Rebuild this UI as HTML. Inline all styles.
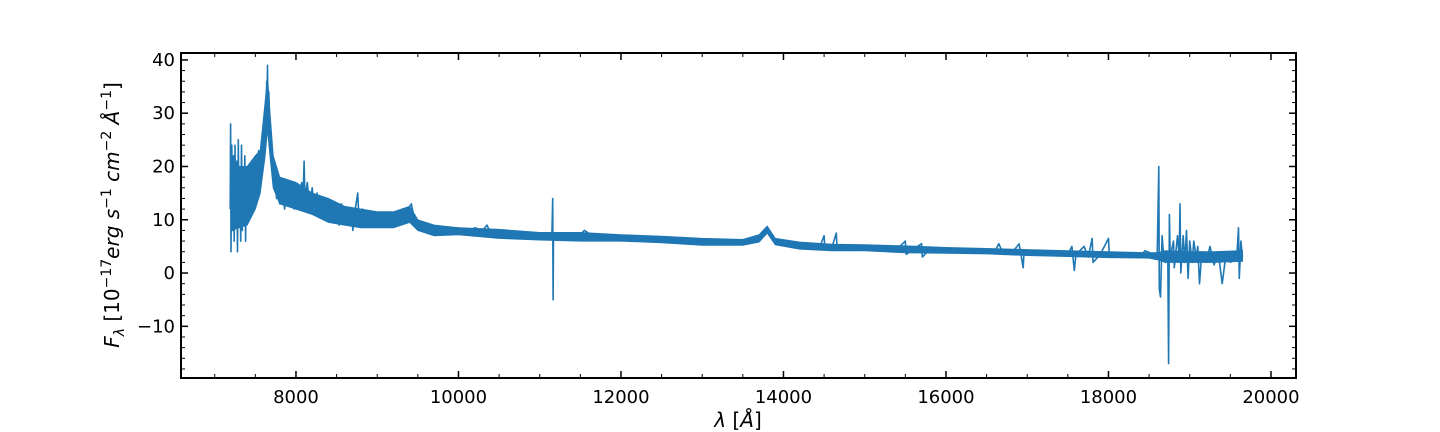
<!DOCTYPE html>
<html><head><meta charset="utf-8"><style>
html,body{margin:0;padding:0;background:#fff;}
svg{display:block;font-family:"DejaVu Sans","Liberation Sans",sans-serif;}
</style></head><body>
<svg id="chart" width="1440" height="432" viewBox="0 0 1440 432">
<g id="plot"></g>
<g id="axes"></g>
<text x="738" y="427" font-size="20" text-anchor="middle"><tspan font-style="italic">λ</tspan> [<tspan font-style="italic">Å</tspan>]</text>
<text transform="translate(119,215) rotate(-90)" font-size="20" text-anchor="middle"><tspan font-style="italic">F</tspan><tspan font-style="italic" font-size="14" dy="5">λ</tspan><tspan dy="-5"> [10</tspan><tspan font-size="14" dy="-8">−17</tspan><tspan font-style="italic" dy="8">erg s</tspan><tspan font-size="14" dy="-8">−1</tspan><tspan font-style="italic" dy="8"> cm</tspan><tspan font-size="14" dy="-8">−2</tspan><tspan font-style="italic" dy="8"> Å</tspan><tspan font-size="14" dy="-8">−1</tspan><tspan dy="8">]</tspan></text>
</svg>
<script>
const waves=[7190,7195,7200,7210,7220,7230,7240,7250,7260,7270,7280,7290,7300,7310,7320,7330,7340,7350,7360,7370,7380,7390,7400,7410,7420,7430,7440,7460,7480,7500,7520,7540,7560,7580,7600,7620,7630,7640,7645,7650,7655,7665,7680,7700,7720,7740,7760,7780,7800,7830,7860,7890,7920,7950,7980,8010,8040,8070,8085,8100,8110,8140,8170,8200,8230,8260,8290,8320,8350,8380,8410,8440,8470,8500,8530,8560,8590,8620,8650,8680,8700,8720,8760,8780,8820,8860,8900,8940,8980,9020,9060,9100,9140,9180,9220,9260,9300,9340,9380,9420,9460,9500,9540,9580,9620,9700,9780,9860,9940,10000,10100,10200,10300,10350,10400,10500,10600,10700,10800,10900,11000,11100,11150,11160,11165,11170,11250,11350,11450,11550,11650,11750,11850,11950,12050,12150,12300,12450,12600,12750,12900,13050,13200,13350,13500,13650,13750,13800,13850,13900,14000,14100,14200,14300,14450,14500,14510,14600,14650,14660,14800,14950,15100,15250,15400,15500,15510,15600,15700,15710,15800,16000,16200,16400,16600,16650,16700,16850,16900,16950,16960,17100,17300,17500,17550,17580,17600,17700,17750,17800,17810,17900,18000,18010,18200,18400,18450,18600,18620,18625,18640,18660,18680,18700,18730,18740,18750,18760,18800,18810,18850,18870,18880,18890,18920,18940,18960,18980,19000,19030,19050,19080,19100,19120,19150,19200,19250,19300,19350,19400,19450,19500,19580,19600,19610,19630,19650];
const fluxes=[12,28,4,24,8,22,6,24,10,21,4,25,9,20,6,24,8,19,10,22,6,18,11,19,13,18,12,17,14,19,15,23,18,22,25,30,26,36,32,39,30,34,26,22,18,20,14,17,13,17,12,16,13,17,12,16,13,17,13,21,14,17,12,16,11,15,11,14,10,13,10,13,10,12,9,13,10,12,9,12,8,11,15,9,12,9,11,9,11,9,11,9,11,9,11,10,11,10,12,13,10,9,8,9,7.5,8.5,7.5,8.5,7.5,8.5,7.5,8.5,8,9,7.5,7.5,8,7,7.5,6.5,7.5,6.5,7,14,-5,7,6.5,7.5,6.5,8,7,7,6.5,7,6.5,7,6.5,6.5,6.3,6,6,5.5,5.7,5.6,5.8,6,7,8.7,7,5.8,5.2,5,5.2,4.8,5,7,4.5,5,7.5,4.5,5,4.7,4.7,4.8,4.5,6,3.5,4.5,5.5,3,4.5,4.3,4.2,4,4,5.5,3.8,4.5,5.5,1,4,3.8,3.7,3.5,5,0.5,3.5,5,3,6.5,2,3.5,6.5,3,3.5,3.3,4.2,3.2,20,-3,-4.5,7,3,2,3,-17,11,3,6,1,7,3,13,0,7,2,8,-1,6,2,6,3,5,-2,4,2,5,1.5,4,-2,4,2,3,8.5,-1,6,3];
const bandWaves=[7200,7400,7500,7560,7620,7650,7680,7720,7800,8000,8200,8400,8600,8800,9000,9200,9400,9500,9700,10000,10500,11000,11500,12000,12500,13000,13500,13700,13800,13900,14200,14600,15000,15500,16000,16500,17000,17500,18000,18500,18600,18700,19000,19300,19650];
const bandLow=[8,9,12,15,22,27,22,16,13,12,11,9.5,9,8.5,8.5,8.5,9.5,8,7,7.2,6.5,6.2,6,6,5.7,5.2,5.2,5.8,7.5,5.3,4.5,4.2,4.2,3.8,3.7,3.6,3.3,3.1,2.9,2.8,2.5,2,2,2,2.2];
const bandHigh=[20,20,22,23,32,37,30,22,18,17,15,14,12.5,12,11.5,11.5,12.5,10,9,8.5,8.2,7.6,7.6,7.2,6.9,6.5,6.3,7.2,8.8,6.5,5.8,5.4,5.3,5.1,4.8,4.6,4.4,4.2,4,3.8,3.8,4.2,4,4,4.2];
const xTicks=[8000,10000,12000,14000,16000,18000,20000];
const yTicks=[-10,0,10,20,30,40];
const L=181,R=1296,T=53,B=378;
const xMin=6585,xMax=20308,yMin=-19.7,yMax=41.3;
const sx=v=>L+(v-xMin)/(xMax-xMin)*(R-L);
const sy=v=>B-(v-yMin)/(yMax-yMin)*(B-T);
const NS="http://www.w3.org/2000/svg";
function mk(t,a,p){const e=document.createElementNS(NS,t);for(const k in a)e.setAttribute(k,a[k]);p.appendChild(e);return e;}
const plot=document.getElementById('plot'),axes=document.getElementById('axes');
let bd=bandWaves.map((w,i)=>(i?'L':'M')+sx(w).toFixed(1)+' '+sy(bandHigh[i]).toFixed(1)).join(' ');
for(let i=bandWaves.length-1;i>=0;i--)bd+=' L'+sx(bandWaves[i]).toFixed(1)+' '+sy(bandLow[i]).toFixed(1);
const band=mk('path',{d:bd+'Z',fill:'#1f77b4',stroke:'#1f77b4','stroke-width':1},plot);


let d=waves.map((w,i)=>(i?'L':'M')+sx(w).toFixed(1)+' '+sy(fluxes[i]).toFixed(1)).join(' ');
const line=mk('path',{d:d,fill:'none',stroke:'#1f77b4','stroke-width':1.6,'stroke-linejoin':'round'},plot);


const frame=mk('rect',{x:L,y:T,width:R-L,height:B-T,fill:'none',stroke:'#000','stroke-width':2},axes);


for(let v=7000;v<=20000;v+=500){const x=sx(v),maj=v%2000===0,l=maj?7:4;
 mk('line',{x1:x,x2:x,y1:B,y2:B-l,stroke:'#000','stroke-width':maj?1.5:1},axes);
 mk('line',{x1:x,x2:x,y1:T,y2:T+l,stroke:'#000','stroke-width':maj?1.5:1},axes);}
for(let v=-18;v<=40;v+=2){const y=sy(v),maj=v%10===0,l=maj?7:4;
 mk('line',{x1:L,x2:L+l,y1:y,y2:y,stroke:'#000','stroke-width':maj?1.5:1},axes);
 mk('line',{x1:R,x2:R-l,y1:y,y2:y,stroke:'#000','stroke-width':maj?1.5:1},axes);}
xTicks.forEach(v=>{const t=mk('text',{x:sx(v),y:B+25,'font-size':18,'text-anchor':'middle'},axes);t.textContent=v;
 
 });
yTicks.forEach(v=>{const t=mk('text',{x:L-6,y:sy(v)+6,'font-size':18,'text-anchor':'end'},axes);t.textContent=v<0?'−'+(-v):v;
 
 });
</script>
</body></html>
